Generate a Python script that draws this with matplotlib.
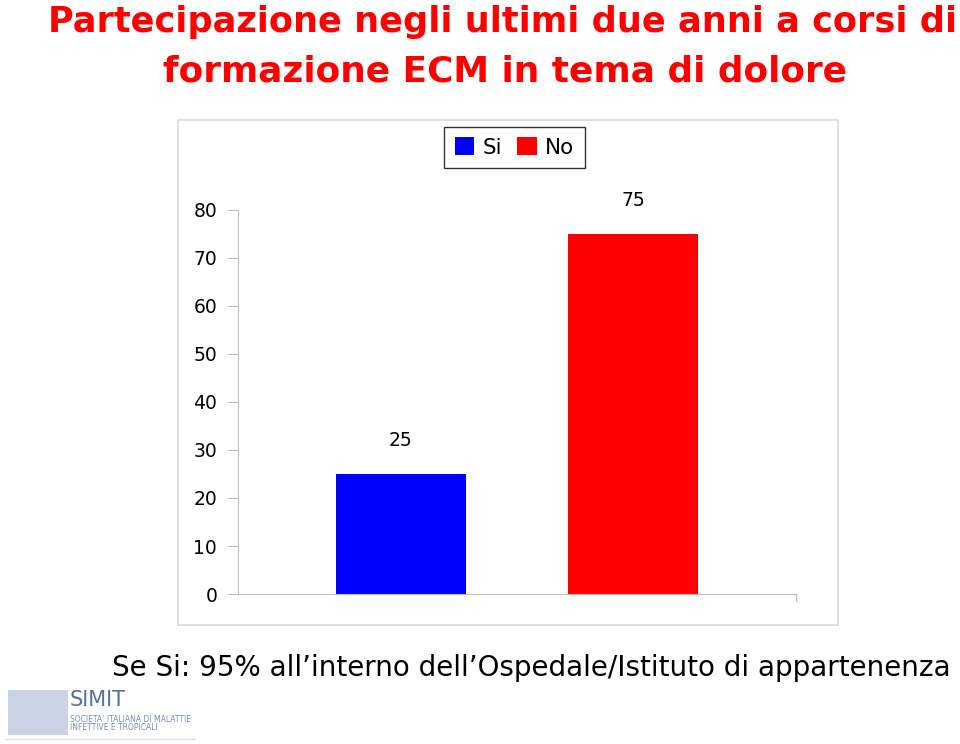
import matplotlib.pyplot as plt
from matplotlib.patches import Rectangle, Patch

categories = ["Si", "No"]
values = [25, 75]
colors = ["#0000FF", "#FF0000"]
yticks = [0, 10, 20, 30, 40, 50, 60, 70, 80]
title_lines = ["Partecipazione negli ultimi due anni a corsi di", "formazione ECM in tema di dolore"]
note = "Se Si: 95% all\u2019interno dell\u2019Ospedale/Istituto di appartenenza"

W, H = 960, 744
fig = plt.figure(figsize=(W / 100, H / 100), dpi=100)

def fx(px):
    return px / W

def fy(py):
    return 1 - py / H

# chart frame
fig.patches.append(Rectangle((fx(178), fy(625)), fx(838) - fx(178), fy(120) - fy(625),
                             transform=fig.transFigure, fill=False, edgecolor="#D9D9D9", lw=1.2))

ax = fig.add_axes([fx(238), fy(594), fx(796) - fx(238), fy(210) - fy(594)])
xs = list(range(len(categories)))
bars = ax.bar(xs, values, width=0.56, color=colors, edgecolor="none")
ax.set_xlim(-0.7, 1.7)
ax.set_ylim(0, 80)
ax.set_yticks(yticks)
ax.set_yticklabels([str(t) for t in yticks], fontsize=13.5)
ax.set_xticks([])
for s in ["top", "right"]:
    ax.spines[s].set_visible(False)
ax.spines["left"].set_color("#BFBFBF")
ax.spines["bottom"].set_color("#BFBFBF")
ax.tick_params(axis="y", direction="out", length=7, color="#BFBFBF", pad=8)
ax.plot([1.7, 1.7], [0, -1.5], color="#BFBFBF", lw=1, clip_on=False)
for b, v in zip(bars, values):
    ax.text(b.get_x() + b.get_width() / 2, v + 5.0, str(v), ha="center", va="bottom", fontsize=13.5)

# legend
handles = [Patch(facecolor=c, edgecolor="none") for c in colors]
leg = fig.legend(handles, categories, loc="center", bbox_to_anchor=(fx(514.5), fy(147.5)),
                 ncol=2, fontsize=15.5, frameon=True, fancybox=False, handlelength=0.9,
                 handleheight=0.9, handletextpad=0.4, columnspacing=0.7, borderpad=0.5)
leg.get_frame().set_edgecolor("black")
leg.get_frame().set_linewidth(1.0)

# title
fig.text(fx(503), fy(22), title_lines[0], ha="center", va="center", color="#FF0000",
         fontsize=25.3, fontweight="bold", family="DejaVu Sans")
fig.text(fx(505), fy(72), title_lines[1], ha="center", va="center", color="#FF0000",
         fontsize=25.8, fontweight="bold", family="DejaVu Sans")

# note
fig.text(fx(531), fy(668), note, ha="center", va="center", color="black", fontsize=20)

# logo approximation
fig.patches.append(Rectangle((fx(8), fy(735)), fx(60), fy(690) - fy(735), transform=fig.transFigure,
                             facecolor="#C9D3E3", edgecolor="none"))
fig.text(fx(70), fy(700), "SIMIT", color="#5A6F9A", fontsize=15, va="center", ha="left")
fig.text(fx(70), fy(719), "SOCIETA\u2019 ITALIANA DI MALATTIE", color="#7A8FB5", fontsize=5.5, va="center", ha="left")
fig.text(fx(70), fy(728), "INFETTIVE E TROPICALI", color="#7A8FB5", fontsize=5.5, va="center", ha="left")
fig.lines.append(plt.Line2D([fx(5), fx(195)], [fy(739), fy(739)], transform=fig.transFigure,
                            color="#E0E0E0", lw=1))

fig.savefig("out.png", dpi=100)
